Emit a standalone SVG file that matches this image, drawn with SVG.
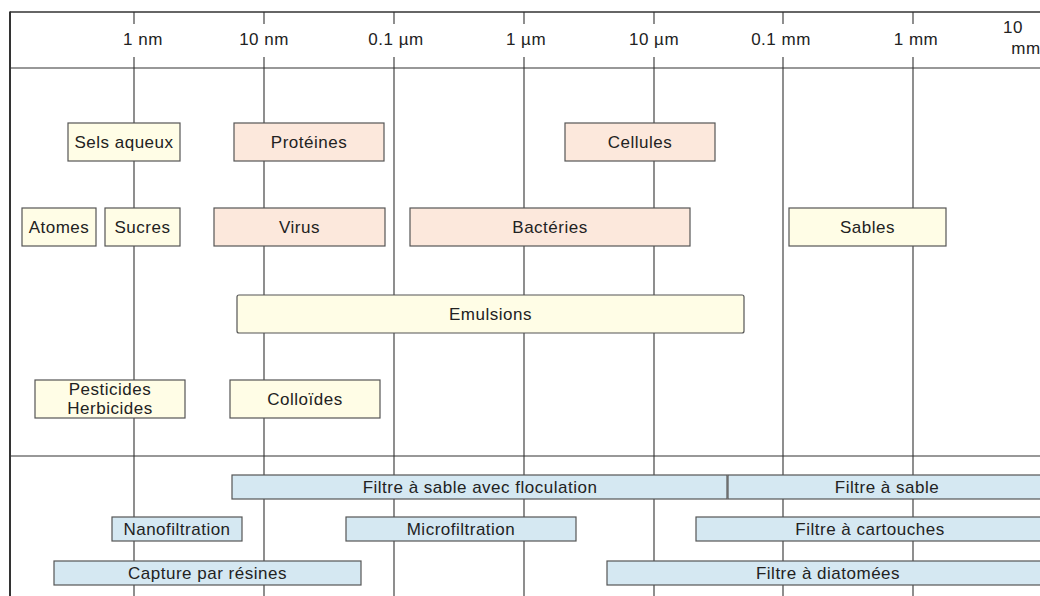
<svg xmlns="http://www.w3.org/2000/svg" width="1040" height="596" viewBox="0 0 1040 596">
<style>
text{font-family:"Liberation Sans",Arial,sans-serif;font-size:17px;letter-spacing:0.5px;fill:#222;text-anchor:middle}
.grid line{stroke:#444;stroke-width:1.2}
.frame{stroke:#333;fill:none}
.cream{fill:#fffde6;stroke:#555;stroke-width:1.2}
.peach{fill:#fce8dc;stroke:#555;stroke-width:1.2}
.blue{fill:#d5e8f2;stroke:#555;stroke-width:1.2}
</style>
<rect width="1040" height="596" fill="#fff"/>
<g id="scale">
<g class="grid" id="gridlines">
<line x1="134" y1="12" x2="134" y2="24"/><line x1="134" y1="57" x2="134" y2="596"/>
<line x1="264" y1="12" x2="264" y2="24"/><line x1="264" y1="57" x2="264" y2="596"/>
<line x1="394" y1="12" x2="394" y2="24"/><line x1="394" y1="57" x2="394" y2="596"/>
<line x1="524" y1="12" x2="524" y2="24"/><line x1="524" y1="57" x2="524" y2="596"/>
<line x1="654" y1="12" x2="654" y2="24"/><line x1="654" y1="57" x2="654" y2="596"/>
<line x1="783" y1="12" x2="783" y2="24"/><line x1="783" y1="57" x2="783" y2="596"/>
<line x1="913" y1="12" x2="913" y2="24"/><line x1="913" y1="57" x2="913" y2="596"/>
</g>
<line class="frame" x1="10" y1="12" x2="1040" y2="12" stroke-width="1.5"/>
<line class="frame" x1="10" y1="68" x2="1040" y2="68" stroke="#555" stroke-width="1.2"/>
<line class="frame" x1="10" y1="456" x2="1040" y2="456" stroke="#555" stroke-width="1.2"/>
<line class="frame" x1="10" y1="11.5" x2="10" y2="596" stroke="#222" stroke-width="2"/>
<text x="143" y="45">1 nm</text>
<text x="264" y="45">10 nm</text>
<text x="396" y="45">0.1 µm</text>
<text x="526" y="45">1 µm</text>
<text x="654" y="45">10 µm</text>
<text x="781" y="45">0.1 mm</text>
<text x="916" y="45">1 mm</text>
<text x="1013" y="33">10</text>
<text x="1026" y="54">mm</text>
</g>
<g id="sels-aqueux"><rect class="cream" x="68" y="123" width="112" height="38"/><text x="124" y="148">Sels aqueux</text></g>
<g id="proteines"><rect class="peach" x="234" y="123" width="150" height="38"/><text x="309" y="148">Protéines</text></g>
<g id="cellules"><rect class="peach" x="565" y="123" width="150" height="38"/><text x="640" y="148">Cellules</text></g>
<g id="atomes"><rect class="cream" x="22" y="208" width="74" height="38"/><text x="59" y="233">Atomes</text></g>
<g id="sucres"><rect class="cream" x="105" y="208" width="75" height="38"/><text x="142.5" y="233">Sucres</text></g>
<g id="virus"><rect class="peach" x="214" y="208" width="171" height="38"/><text x="299.5" y="233">Virus</text></g>
<g id="bacteries"><rect class="peach" x="410" y="208" width="280" height="38"/><text x="550" y="233">Bactéries</text></g>
<g id="sables"><rect class="cream" x="789" y="208" width="157" height="38"/><text x="867.5" y="233">Sables</text></g>
<g id="emulsions"><rect class="cream" x="237" y="295" width="507" height="38" rx="2"/><text x="490.5" y="320">Emulsions</text></g>
<g id="pesticides"><rect class="cream" x="35" y="380" width="150" height="38"/><text x="110" y="395">Pesticides</text><text x="110" y="414">Herbicides</text></g>
<g id="colloides"><rect class="cream" x="230" y="380" width="150" height="38"/><text x="305" y="405">Colloïdes</text></g>
<g id="filtre-sable-floculation"><rect class="blue" x="232" y="475" width="495" height="24"/><text x="480" y="493">Filtre à sable avec floculation</text></g>
<g id="filtre-sable"><rect class="blue" x="728" y="475" width="320" height="24"/><text x="887" y="493">Filtre à sable</text></g>
<g id="nanofiltration"><rect class="blue" x="112" y="517" width="130" height="24"/><text x="177" y="535">Nanofiltration</text></g>
<g id="microfiltration"><rect class="blue" x="346" y="517" width="230" height="24"/><text x="461" y="535">Microfiltration</text></g>
<g id="filtre-cartouches"><rect class="blue" x="696" y="517" width="352" height="24"/><text x="870" y="535">Filtre à cartouches</text></g>
<g id="capture-resines"><rect class="blue" x="54" y="561" width="307" height="24"/><text x="207.5" y="579">Capture par résines</text></g>
<g id="filtre-diatomees"><rect class="blue" x="607" y="561" width="441" height="24"/><text x="828" y="579">Filtre à diatomées</text></g>
</svg>
